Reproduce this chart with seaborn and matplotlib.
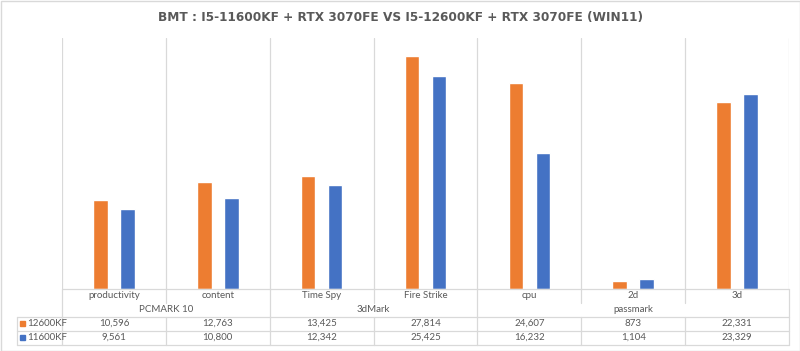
import matplotlib
matplotlib.use("Agg")
import matplotlib.pyplot as plt
import matplotlib.transforms as mtransforms
from matplotlib.patches import Rectangle
import seaborn as sns
import pandas as pd

categories = ["productivity", "content", "Time Spy", "Fire Strike", "cpu", "2d", "3d"]
groups = ["PCMARK 10", "3dMark", "passmark"]
group_spans = [(0, 1), (2, 3), (4, 6)]
series_names = ["12600KF", "11600KF"]
values_12600 = [10596, 12763, 13425, 27814, 24607, 873, 22331]
values_11600 = [9561, 10800, 12342, 25425, 16232, 1104, 23329]
colors = ["#ED7D31", "#4472C4"]

df = pd.DataFrame({
    "category": categories * 2,
    "series": [series_names[0]] * 7 + [series_names[1]] * 7,
    "value": values_12600 + values_11600,
})

sns.set_theme(style="white")
plt.rcParams["font.family"] = ["Lato", "DejaVu Sans"]

W, H = 800, 351
fig = plt.figure(figsize=(W / 100, H / 100), dpi=100)
ax = fig.add_axes([62 / W, 1 - 288.5 / H, (789 - 62) / W, (288.5 - 38) / H])

sns.barplot(data=df, x="category", y="value", hue="series", order=categories,
            hue_order=series_names, palette=colors, width=0.52, gap=0.46,
            saturation=1, ax=ax, legend=False)

ax.set_xlim(-0.5, 6.5)
ax.set_ylim(0, 30000)
for s in ax.spines.values():
    s.set_visible(False)
ax.set_xticks([])
ax.set_yticks([])
ax.set_xlabel("")
ax.set_ylabel("")

grid = "#d9d9d9"
txt = "#595959"
lw = 0.9

# vertical gridlines in plot area
for b in [i - 0.5 for i in range(8)]:
    ax.axvline(b, color=grid, lw=lw, zorder=0)

tr = mtransforms.blended_transform_factory(ax.transData, fig.transFigure)

def fy(py):
    return 1 - py / H

def fx(px):
    return px / W

def hline(py, x0, x1):
    fig.add_artist(plt.Line2D([fx(x0), fx(x1)], [fy(py), fy(py)], color=grid, lw=lw))

def vline_data(xd, py0, py1):
    fig.add_artist(plt.Line2D([xd, xd], [fy(py0), fy(py1)], color=grid, lw=lw, transform=tr))

# table horizontal lines
hline(288.8, 62, 789)
hline(316.5, 17.3, 789)
hline(330.5, 17.3, 789)
hline(344.5, 17.3, 789)

# table vertical lines
group_bounds = [-0.5, 1.5, 3.5, 6.5]
for b in [i - 0.5 for i in range(8)]:
    if b in group_bounds:
        vline_data(b, 288.8, 344.5)
    else:
        vline_data(b, 288.8, 303)
        vline_data(b, 316.5, 344.5)
fig.add_artist(plt.Line2D([fx(17.3), fx(17.3)], [fy(316.5), fy(344.5)], color=grid, lw=lw))

fs = 7
for i, c in enumerate(categories):
    fig.text(i, fy(296), c, transform=tr, ha="center", va="center", fontsize=fs, color=txt)
for g, (a, b) in zip(groups, group_spans):
    fig.text((a + b) / 2, fy(309.5), g, transform=tr, ha="center", va="center", fontsize=fs, color=txt)

row_y = [323.5, 337.5]
for name, vals, col, py in zip(series_names, [values_12600, values_11600], colors, row_y):
    for i, v in enumerate(vals):
        fig.text(i, fy(py), f"{v:,}", transform=tr, ha="center", va="center", fontsize=fs, color=txt)
    fig.add_artist(Rectangle((fx(20), fy(py + 2.5)), 5 / W, 5 / H, color=col, transform=fig.transFigure))
    fig.text(fx(27), fy(py), name, ha="left", va="center", fontsize=fs, color=txt)

fig.text(0.5, fy(17), "BMT : I5-11600KF + RTX 3070FE VS I5-12600KF + RTX 3070FE (WIN11)",
         ha="center", va="center", fontsize=8.7, fontweight="bold", color=txt,
         family=["DejaVu Sans"])

fig.add_artist(Rectangle((0.5 / W, 0.5 / H), (W - 1) / W, (H - 1) / H, fill=False,
                         edgecolor="#d9d9d9", lw=1, transform=fig.transFigure))

fig.savefig("out.png", dpi=100)
